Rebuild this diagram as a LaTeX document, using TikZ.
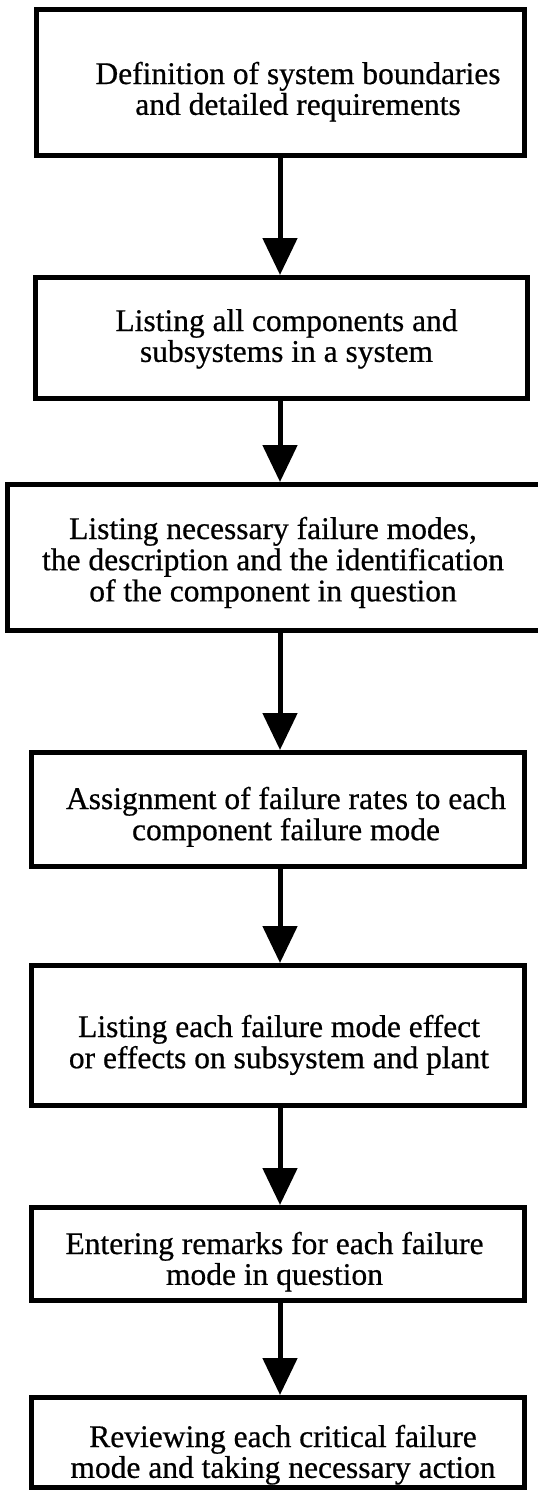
\documentclass[tikz,border=0pt]{standalone}
\usepackage{fontspec}
\setmainfont[FakeBold=0.6]{Liberation Serif}
\usetikzlibrary{arrows.meta}
\tikzset{
  stepbox/.style={draw=black, line width=5pt, inner sep=0pt, rectangle},
  steptext/.style={inner sep=0pt, anchor=base, font=\fontsize{31.5}{30}\selectfont},
  flowarrow/.style={line width=5pt, -{Triangle[length=37pt,width=34pt]}}
}
\newcommand{\twolines}[2]{\begin{tabular}[t]{@{}c@{}}#1\\#2\end{tabular}}
\newcommand{\threelines}[3]{\begin{tabular}[t]{@{}c@{}}#1\\#2\\#3\end{tabular}}
\begin{document}
\begin{tikzpicture}[x=1pt,y=-1pt]
\path[use as bounding box, fill=white] (0,0) rectangle (538,1492);
\clip (0,0) rectangle (538,1492);
\coordinate (ax) at (280,0);
% boxes
\node[stepbox, minimum width=488pt, minimum height=146pt] (b1) at (280.5,82.5) {};
\node[stepbox, minimum width=492pt, minimum height=121pt] (b2) at (281.5,338) {};
\node[stepbox, minimum width=540pt, minimum height=146pt] (b3) at (277.5,557.5) {};
\node[stepbox, minimum width=493pt, minimum height=114pt] (b4) at (278,809.5) {};
\node[stepbox, minimum width=493pt, minimum height=140pt] (b5) at (278,1035.5) {};
\node[stepbox, minimum width=493pt, minimum height=93pt] (b6) at (278,1254) {};
\node[stepbox, minimum width=493pt, minimum height=90pt] (b7) at (278,1442.5) {};
% texts
\node[steptext] (t1) at (298,84) {\twolines{Definition of system boundaries}{and detailed requirements}};
\node[steptext] (t2) at (286.5,331) {\twolines{Listing all components and}{subsystems in a system}};
\node[steptext] (t3) at (273,539) {\threelines{Listing necessary failure modes,}{the description and the identification}{of the component in question}};
\node[steptext] (t4) at (286,809) {\twolines{Assignment of failure rates to each}{component failure mode}};
\node[steptext] (t5) at (279,1037) {\twolines{Listing each failure mode effect}{or effects on subsystem and plant}};
\node[steptext] (t6) at (274.5,1254) {\twolines{Entering remarks for each failure}{mode in question}};
\node[steptext] (t7) at (283,1447) {\twolines{Reviewing each critical failure}{mode and taking necessary action}};
% arrows
\draw[flowarrow] (b1.south -| ax) -- (b2.north -| ax);
\draw[flowarrow] (b2.south -| ax) -- (b3.north -| ax);
\draw[flowarrow] (b3.south -| ax) -- (b4.north -| ax);
\draw[flowarrow] (b4.south -| ax) -- (b5.north -| ax);
\draw[flowarrow] (b5.south -| ax) -- (b6.north -| ax);
\draw[flowarrow] (b6.south -| ax) -- (b7.north -| ax);
\end{tikzpicture}
\end{document}
